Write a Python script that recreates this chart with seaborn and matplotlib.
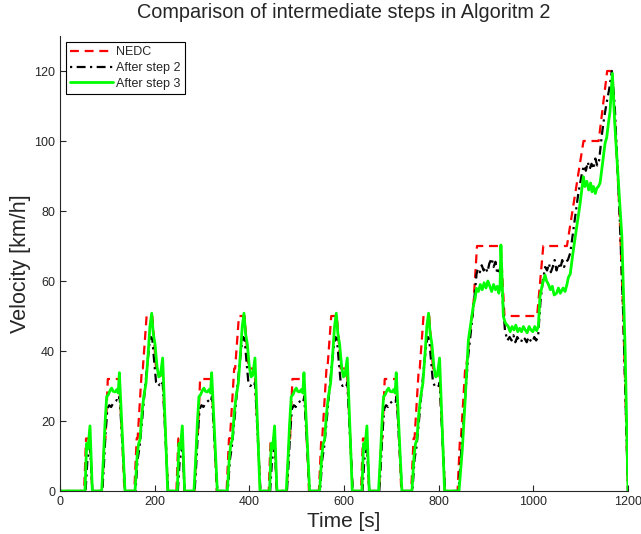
import numpy as np
import pandas as pd
import seaborn as sns
import matplotlib
matplotlib.use('Agg')
import matplotlib.pyplot as plt

# ECE urban cycle, time relative to the start of each cycle
ece_starts = [40, 235, 430, 625]

nedc_ece_t = [0, 11, 15, 23, 25, 28, 49, 54, 56, 61, 85, 93, 96, 117, 122, 124,
              133, 135, 143, 155, 163, 176, 185, 188]
nedc_ece_v = [0, 0, 15, 15, 10, 0, 0, 15, 15, 32, 32, 10, 0, 0, 15, 15,
              35, 35, 50, 50, 35, 35, 10, 0]

step2_ece_t = [0, 14, 18, 21, 23.5, 28.5, 49.5, 53, 56, 60, 64, 68, 72, 76, 80, 84,
               86, 97.5, 119.5, 124, 128, 132, 136, 140, 145, 149, 152, 155, 159,
               163, 167, 171, 175, 177, 188.5]
step2_ece_v = [0, 0, 9, 11, 12.5, 0, 0, 8, 16, 23.5, 24.5, 24, 25, 25.5, 26, 25.5,
               27, 0, 0, 9, 12.5, 18, 24, 30, 37, 42, 44, 43.5, 37,
               31, 30, 30.5, 30, 31, 0]

step3_ece_t = [0, 12.8, 16.3, 19, 23.4, 28.3, 48, 52, 55, 58.6, 62, 66, 69.2, 72,
               76.2, 80, 83, 85.4, 97.3, 118.5, 123, 126, 129, 133, 137, 141.7,
               146.6, 150, 153.7, 157, 160.7, 165, 168.7, 172, 176.9, 187.5]
step3_ece_v = [0, 0, 13.6, 12, 18.6, 0, 0, 10, 19, 27, 27.5, 28.8, 29.4, 28.5,
               28.3, 29, 28, 33.8, 0, 0, 10, 13.5, 14.6, 22, 27, 30.8,
               40, 47, 50.8, 45, 42, 35.5, 32.6, 33, 38, 0]

# extra-urban part, absolute time
nedc_eudc_t = [820, 840, 845, 847, 856, 858, 870, 872, 881, 931, 939, 1008, 1021,
               1071, 1106, 1138, 1156, 1167, 1182, 1190, 1200]
nedc_eudc_v = [0, 0, 15, 15, 35, 35, 50, 50, 70, 70, 50, 50, 70,
               70, 100, 100, 120, 120, 80, 50, 0]

step2_eudc_t = [820, 842, 848, 855, 862, 870, 876, 880, 883, 887, 891, 895, 899, 903,
                907, 912, 916, 920, 924, 928, 931, 935, 940, 945, 950, 954, 958, 962,
                966, 970, 974, 978, 982, 986, 990, 994, 998, 1002, 1006, 1010, 1015,
                1020, 1025, 1029, 1033, 1037, 1041, 1045, 1049, 1053, 1057, 1061,
                1065, 1069, 1073, 1078, 1085, 1095, 1103, 1107, 1111, 1115, 1119,
                1123, 1127, 1131, 1135, 1139, 1145, 1150, 1155, 1160, 1166, 1172,
                1182, 1190, 1200]
step2_eudc_v = [0, 0, 12, 25, 38, 48, 56, 62, 63.5, 62.5, 64.5, 63, 64, 62.5,
                65, 66.5, 64, 65.5, 62, 63, 64, 55, 46, 43, 44, 43, 44.5, 42.5,
                44, 43, 42.5, 44, 43.5, 42.5, 44, 43, 42.5, 44, 43, 44, 54,
                60, 64, 63, 65, 62.5, 64, 66, 63, 65, 63.5, 66,
                64, 65.5, 66, 68, 75, 85, 91, 93, 91.5, 94, 92,
                93.5, 92, 95, 93, 94.5, 102, 107, 111, 114.6, 120, 110,
                80, 50, 0]

step3_eudc_t = [820, 843, 850, 856, 862.7, 873, 877, 880, 884, 888, 892, 896, 900,
                904, 908, 912, 916, 920, 924, 927, 929.6, 931.5, 936.7, 941, 947,
                951, 955, 959, 963, 967, 971, 975, 979, 983, 987, 991, 995, 999,
                1003, 1007, 1010.6, 1014, 1019, 1024.7, 1028, 1032, 1036, 1040,
                1044, 1049, 1053, 1057, 1063, 1067, 1071, 1074, 1078, 1084.6,
                1091.6, 1098.7, 1105.7, 1109, 1113, 1117, 1121, 1124, 1127, 1131,
                1134, 1137.4, 1141, 1144.5, 1151.5, 1155, 1158.6, 1162, 1167, 1172,
                1180, 1187, 1194, 1200]
step3_eudc_v = [0, 0, 12, 26, 43, 52.7, 55, 57.9, 57, 59, 57.5, 59.5, 58,
                60, 58.5, 57, 59, 57.5, 58.5, 56.5, 58, 70.3, 49.8, 48, 47,
                45.5, 47, 46, 47.4, 45.5, 46.5, 45.5, 47, 46, 45.2, 47, 46, 45.5,
                47, 45.8, 47, 55.5, 59, 61.7, 60, 59, 57.5, 58.5,
                56, 56.5, 58, 56.5, 58, 57, 59, 61, 62, 68.9,
                75.5, 82, 89.8, 87, 88.5, 86, 88, 85.5, 87, 85,
                86.5, 87, 88, 91.7, 99.3, 101, 105, 108.4, 119.3, 105,
                88, 72.7, 40, 0]


def build(ece_t, ece_v, eudc_t, eudc_v):
    t = [0]
    v = [0]
    for s in ece_starts:
        t += [s + x for x in ece_t]
        v += list(ece_v)
    t += list(eudc_t)
    v += list(eudc_v)
    return pd.DataFrame({'X': t, 'Y': v})


nedc = build(nedc_ece_t, nedc_ece_v, nedc_eudc_t, nedc_eudc_v)
step2 = build(step2_ece_t, step2_ece_v, step2_eudc_t, step2_eudc_v)
step3 = build(step3_ece_t, step3_ece_v, step3_eudc_t, step3_eudc_v)

sns.set_style('ticks')
plt.rcParams['font.family'] = ['Liberation Sans', 'DejaVu Sans']
plt.rcParams['xtick.direction'] = 'in'
plt.rcParams['ytick.direction'] = 'in'

fig = plt.figure(figsize=(6.41, 5.34), dpi=100)
ax = fig.add_axes([60 / 641, 1 - 491 / 534, 568 / 641, 455 / 534])

sns.lineplot(data=nedc, x='X', y='Y', ax=ax, estimator=None, sort=False,
             color='#ff0000', linewidth=1.6, linestyle=(0, (4, 2.6)), label='NEDC')
sns.lineplot(data=step2, x='X', y='Y', ax=ax, estimator=None, sort=False,
             color='black', linewidth=1.6, linestyle=(0, (1, 2, 4, 2)), label='After step 2')
sns.lineplot(data=step3, x='X', y='Y', ax=ax, estimator=None, sort=False,
             color='#00ff00', linewidth=2.0, label='After step 3')

ax.set_xlim(0, 1200)
ax.set_ylim(0, 130)
ax.set_xticks(np.arange(0, 1201, 200))
ax.set_yticks(np.arange(0, 121, 20))
ax.tick_params(labelsize=9, length=4, width=0.8)
sns.despine(ax=ax)
ax.spines['left'].set_linewidth(0.8)
ax.spines['bottom'].set_linewidth(0.8)

ax.set_title('Comparison of intermediate steps in Algoritm 2', fontsize=14.3, pad=13)
ax.set_xlabel('Time [s]', fontsize=15, labelpad=3)
ax.set_ylabel('Velocity [km/h]', fontsize=15.5, labelpad=2)

leg = ax.legend(loc='upper left', bbox_to_anchor=(0.01, 0.987), fontsize=9,
                frameon=True, fancybox=False, handlelength=3.4, borderpad=0.35,
                labelspacing=0.3, handletextpad=0.3, borderaxespad=0)
leg.get_frame().set_edgecolor('black')
leg.get_frame().set_linewidth(0.8)
leg.get_frame().set_alpha(1)

fig.savefig('out.png', dpi=100)
